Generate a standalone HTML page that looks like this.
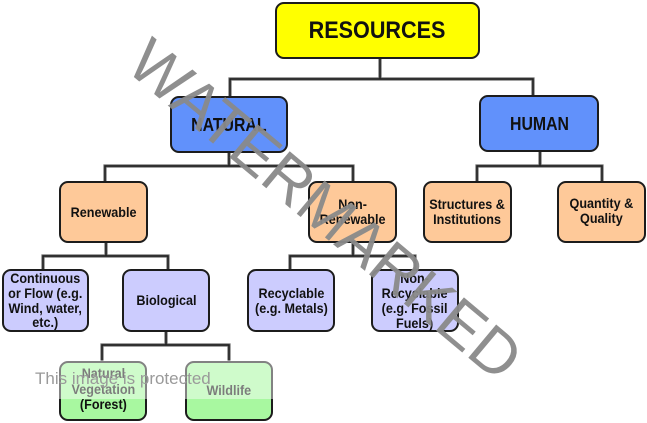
<!DOCTYPE html>
<html><head><meta charset="utf-8"><style>
html,body{margin:0;padding:0;background:#fff;}
body{width:647px;height:423px;position:relative;overflow:hidden;font-family:"Liberation Sans",Arial,sans-serif;}
.b{position:absolute;box-sizing:border-box;border:2.5px solid #1c1c1c;border-radius:9px;display:flex;align-items:center;justify-content:center;text-align:center;font-weight:bold;color:#111;}
.b span{display:block;white-space:nowrap;transform:scaleX(0.9);font-size:14px;line-height:15px;}
.y{background:#ffff00;}
.bl{background:#6191fb;}
.o{background:#fec999;}
.l{background:#ccccfe;}
.g{background:#a8f8a0;}
svg{position:absolute;left:0;top:0;}
</style></head><body>
<svg width="647" height="423">
<g fill="none" stroke-linecap="square">
<g stroke="#6a6a6a" stroke-width="3.2">
<path d="M380 59V79M230 79H533M230 79V96M533 79V95"/>
<path d="M229 153V166M105 166H353M105 166V181M353 166V181"/>
<path d="M540 152V166M477 166H602M477 166V181M602 166V181"/>
<path d="M106 243V256M43 256H168M43 256V269M168 256V269"/>
<path d="M353 243V256M290 256H415M290 256V269M415 256V269"/>
<path d="M166 332V345M102 345H229M102 345V361M229 345V361"/>
</g>
<g stroke="#1e1e1e" stroke-width="1.4">
<path d="M380 59V79M230 79H533M230 79V96M533 79V95"/>
<path d="M229 153V166M105 166H353M105 166V181M353 166V181"/>
<path d="M540 152V166M477 166H602M477 166V181M602 166V181"/>
<path d="M106 243V256M43 256H168M43 256V269M168 256V269"/>
<path d="M353 243V256M290 256H415M290 256V269M415 256V269"/>
<path d="M166 332V345M102 345H229M102 345V361M229 345V361"/>
</g>
</g>
</svg>

<div class="b y" style="left:275px;top:2px;width:205px;height:57px;"><span style="font-size:24px;line-height:26px;">RESOURCES</span></div>
<div class="b bl" style="left:170px;top:96px;width:118px;height:57px;"><span style="font-size:18px;line-height:20px;transform:scaleX(0.88);">NATURAL</span></div>
<div class="b bl" style="left:479px;top:95px;width:120px;height:57px;"><span style="font-size:18px;line-height:20px;transform:scaleX(0.88);">HUMAN</span></div>

<div class="b o" style="left:59px;top:181px;width:89px;height:62px;"><span>Renewable</span></div>
<div class="b o" style="left:308px;top:181px;width:89px;height:62px;"><span>Non-<br>Renewable</span></div>
<div class="b o" style="left:423px;top:181px;width:89px;height:62px;"><span>Structures &amp;<br>Institutions</span></div>
<div class="b o" style="left:557px;top:181px;width:89px;height:62px;"><span style="margin-top:-3px;">Quantity &amp;<br>Quality</span></div>

<div class="b l" style="left:2px;top:269px;width:87px;height:63px;"><span style="line-height:14.6px;">Continuous<br>or Flow (e.g.<br>Wind, water,<br>etc.)</span></div>
<div class="b l" style="left:122px;top:269px;width:88px;height:63px;"><span>Biological</span></div>
<div class="b l" style="left:247px;top:269px;width:88px;height:63px;"><span>Recyclable<br>(e.g. Metals)</span></div>
<div class="b l" style="left:371px;top:269px;width:88px;height:63px;"><span>Non-<br>Recyclable<br>(e.g. Fossil<br>Fuels)</span></div>

<div class="b g" style="left:59px;top:361px;width:88px;height:60px;"><span style="line-height:15.5px;margin-top:-3px;">Natural<br>Vegetation<br>(Forest)</span></div>
<div class="b g" style="left:185px;top:361px;width:88px;height:60px;"><span style="margin-top:-2px;">Wildlife</span></div>

<div style="position:absolute;left:0;top:360px;width:647px;height:39px;background:rgba(255,255,255,0.45);"></div>
<div style="position:absolute;left:35px;top:369px;font-size:17px;line-height:20px;color:#9a9a9a;white-space:nowrap;">This image is protected</div>

<div style="position:absolute;left:325px;top:210px;width:0;height:0;">
<div style="position:absolute;left:0;top:0;transform:translate(-50%,-50%) rotate(40deg);font-size:63px;line-height:66px;color:#8a8a8a;white-space:nowrap;opacity:0.95;">WATERMARKED</div>
</div>
</body></html>
